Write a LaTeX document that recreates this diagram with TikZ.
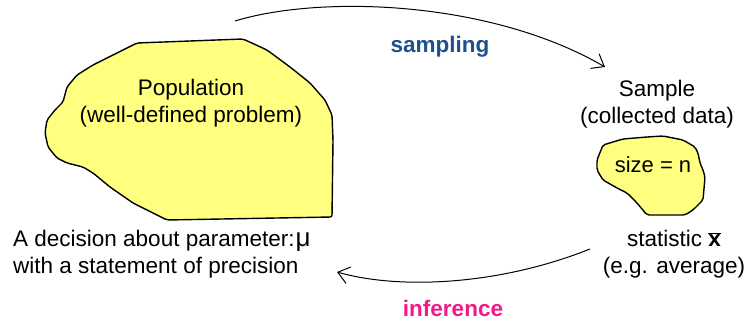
\documentclass[tikz,border=0pt]{standalone}
\usepackage{fontspec}
\setmainfont{Liberation Sans}
\usetikzlibrary{arrows.meta}
\definecolor{blobfill}{RGB}{255,255,128}
\definecolor{sampblue}{RGB}{30,80,140}
\definecolor{infpink}{RGB}{240,25,135}
\tikzset{
  blob/.style={draw=black, line width=1.4pt, fill=blobfill, rounded corners=2pt},
  lbl/.style={inner sep=0pt, align=center, font=\fontsize{22.5}{27}\selectfont},
  conn/.style={line width=1pt, -{Straight Barb[length=11pt,width=17pt,line width=1pt]}}
}
\begin{document}
\begin{tikzpicture}[x=1pt,y=-1pt]
\useasboundingbox (0,0) rectangle (749,320);
% population blob
\draw[blob] (137,43) -- (243,39) -- (267,50) -- (290,67) -- (310,83) -- (325,100) -- (332,115) -- (333,140) -- (332,217) -- (167,220) -- (133,203) -- (110,187) -- (93,173) -- (83,167) -- (67,163) -- (57,158) -- (48,147) -- (45,133) -- (47,120) -- (55,110) -- (63,102) -- (67,87) -- (77,75) -- (93,65) -- (113,55) -- cycle;
% sample blob
\draw[blob] (603,145) -- (623,139) -- (647,137) -- (663,136) -- (683,140) -- (695,147) -- (698,153) -- (700,163) -- (703,170) -- (705,177) -- (703,200) -- (693,210) -- (685,215) -- (647,215) -- (637,203) -- (627,193) -- (617,188) -- (603,180) -- (597,170) -- (597,160) -- cycle;
\node[lbl] (pop) at (191,103) {Population\\(well-defined problem)};
\node[lbl] (samp) at (657,104) {Sample\\(collected data)};
\node[lbl, font=\fontsize{22}{26}\selectfont] (size) at (653,165) {size = n};
\node[lbl, font=\bfseries\fontsize{22.5}{27}\selectfont, text=sampblue] (sl) at (440,47) {sampling};
\node[lbl, font=\bfseries\fontsize{22.5}{27}\selectfont, text=infpink] (il) at (453,308) {inference};
\node[lbl, align=left, anchor=west] (dec) at (13,254) {A decision about parameter:\hspace{1pt}{\fontsize{26}{27}\selectfont μ}\\with a statement of precision};
\node[lbl] (stat) at (674,254) {statistic $\overline{\mbox{\bfseries x}}$\\(e.g. average)};
\coordinate (s0) at (235,21);
\coordinate (s1) at (605,67);
\coordinate (i0) at (590,249);
\coordinate (i1) at (337,272);
\draw[conn] (s0) .. controls (320,-5) and (490,0) .. (s1);
\draw[conn] (i0) .. controls (500,285) and (400,290) .. (i1);
\end{tikzpicture}
\end{document}
